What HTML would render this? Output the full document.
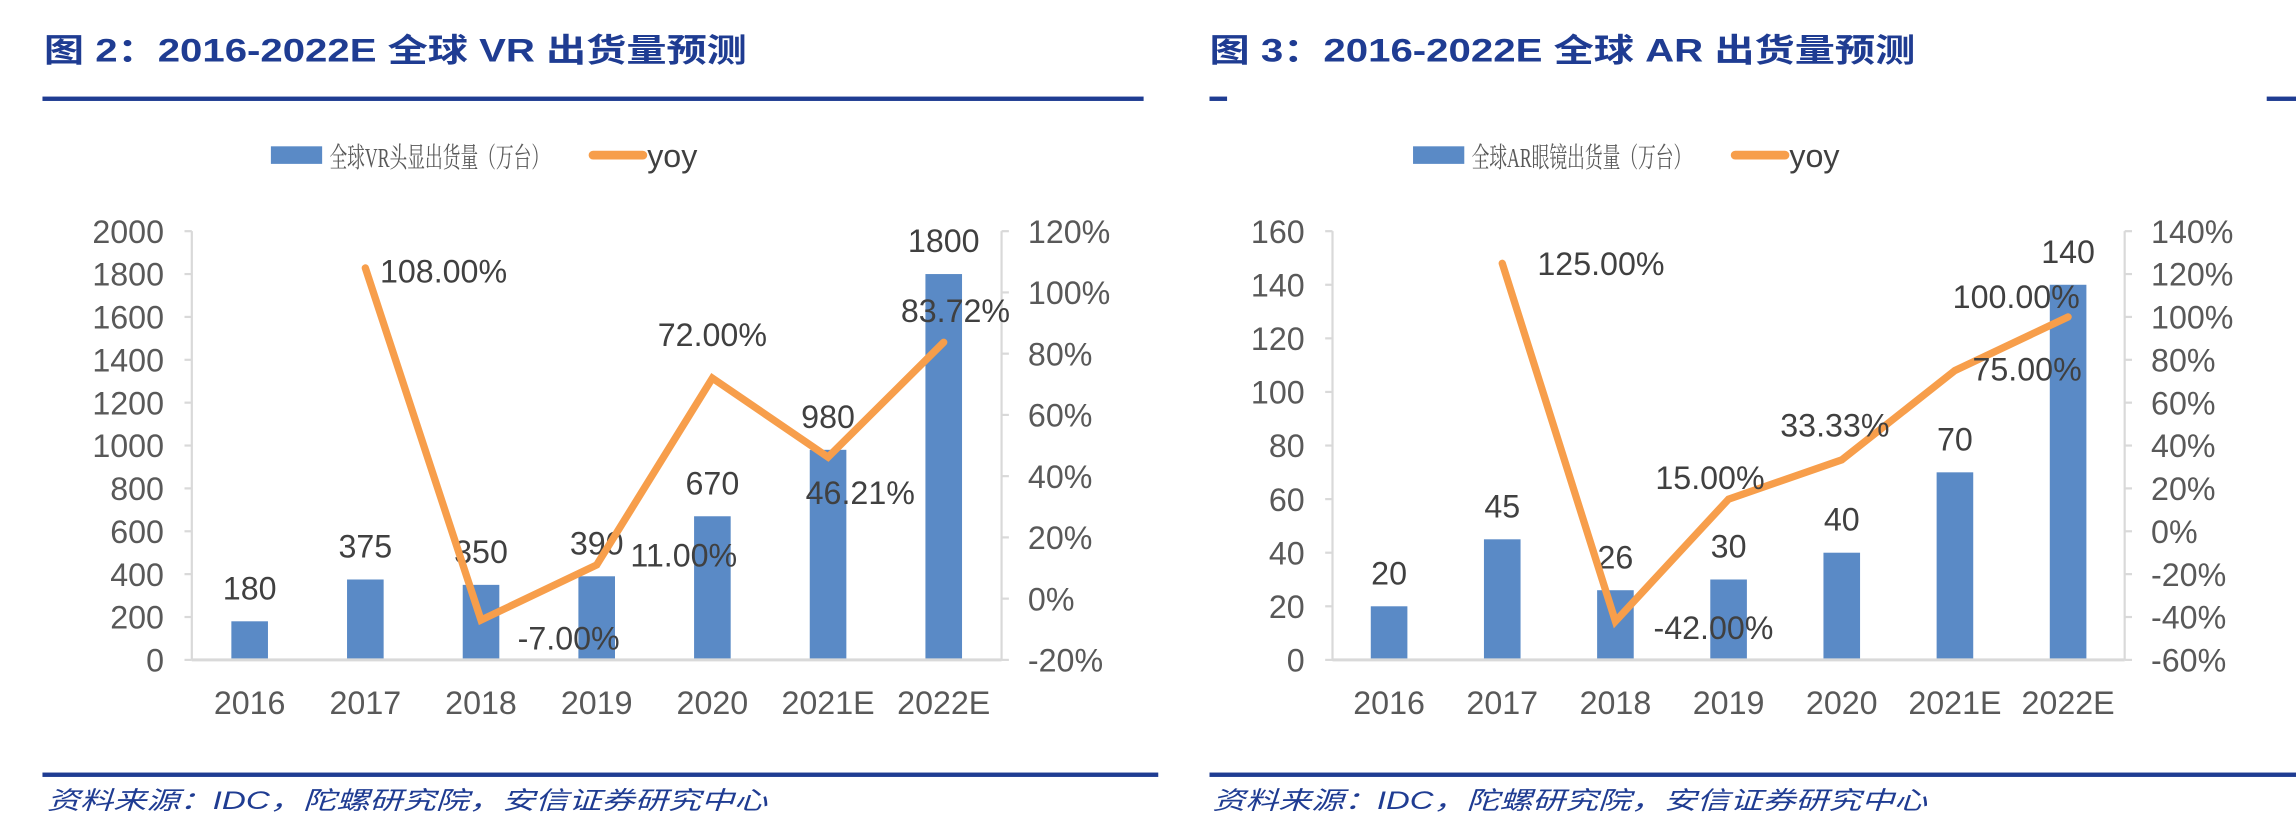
<!DOCTYPE html>
<html><head><meta charset="utf-8"><style>
html,body{margin:0;padding:0;background:#fff;}
svg{display:block;}
text{font-family:"Liberation Sans","Noto Sans CJK SC",sans-serif;}
text.serif{font-family:"Liberation Serif","Noto Serif CJK SC",serif;}
</style></head><body>
<svg id="root" width="2296" height="834" viewBox="0 0 1568 570" preserveAspectRatio="none" xmlns="http://www.w3.org/2000/svg">
<rect width="1568" height="570" fill="#fff"/>
<text x="30" y="42" font-size="22" font-weight="bold" fill="#1F3C92" textLength="480" lengthAdjust="spacingAndGlyphs">图 2：2016-2022E 全球 VR 出货量预测</text>
<rect x="29" y="66" width="752" height="3" fill="#1F3C92"/>
<rect x="29" y="528" width="762" height="3" fill="#1F3C92"/>
<text x="32" y="553" font-size="17" font-style="italic" fill="#1F3C92" textLength="492" lengthAdjust="spacingAndGlyphs">资料来源：IDC，陀螺研究院，安信证券研究中心</text>
<text x="826" y="42" font-size="22" font-weight="bold" fill="#1F3C92" textLength="482" lengthAdjust="spacingAndGlyphs">图 3：2016-2022E 全球 AR 出货量预测</text>
<rect x="826" y="66" width="12" height="3" fill="#1F3C92"/>
<rect x="1548" y="66" width="20" height="3" fill="#1F3C92"/>
<rect x="826" y="528" width="742" height="3" fill="#1F3C92"/>
<text x="828" y="553" font-size="17" font-style="italic" fill="#1F3C92" textLength="488" lengthAdjust="spacingAndGlyphs">资料来源：IDC，陀螺研究院，安信证券研究中心</text>
<g id="vr"></g>
<g id="ar"></g>
</svg>
<script>
const categories = ["2016","2017","2018","2019","2020","2021E","2022E"];
const vrShipments = [180,375,350,390,670,980,1800];
const vrYoy = [null,108.00,-7.00,11.00,72.00,46.21,83.72];
const vrLeftTicks = [0,200,400,600,800,1000,1200,1400,1600,1800,2000];
const vrRightTicks = [-20,0,20,40,60,80,100,120];
const arShipments = [20,45,26,30,40,70,140];
const arYoy = [null,125.00,-42.00,15.00,33.33,75.00,100.00];
const arLeftTicks = [0,20,40,60,80,100,120,140,160];
const arRightTicks = [-60,-40,-20,0,20,40,60,80,100,120,140];
const vrLegend = "全球VR头显出货量（万台）";
const arLegend = "全球AR眼镜出货量（万台）";

const NS="http://www.w3.org/2000/svg";
function mk(parent,tag,attrs,txt){const e=document.createElementNS(NS,tag);for(const k in attrs)e.setAttribute(k,attrs[k]);if(txt!==undefined)e.textContent=txt;parent.appendChild(e);return e;}

function draw(g,cfg){
  const L=cfg.x0,R=cfg.x1,T=158,B=451;
  const lmin=cfg.lt[0],lmax=cfg.lt[cfg.lt.length-1];
  const rmin=cfg.rt[0],rmax=cfg.rt[cfg.rt.length-1];
  const yL=v=>B-(v-lmin)/(lmax-lmin)*(B-T);
  const yR=v=>B-(v-rmin)/(rmax-rmin)*(B-T);
  const step=(R-L)/categories.length;
  const xC=i=>L+step*(i+0.5);
  const lx=cfg.legX;
  let e=mk(g,'rect',{x:lx,y:100,width:35,height:12,fill:'#5A8AC6'});
  
  
  e=mk(g,'text',{class:'serif',x:lx+40,y:114,'font-size':19,fill:'#595959',textLength:150,lengthAdjust:'spacingAndGlyphs'},cfg.legend);
  
  
  e=mk(g,'line',{x1:lx+220,y1:106,x2:lx+254,y2:106,stroke:'#F79E4B','stroke-width':6,'stroke-linecap':'round'});
  
  
  e=mk(g,'text',{x:lx+257,y:114,'font-size':22,fill:'#404040'},'yoy');
  
  
  e=mk(g,'line',{x1:L,y1:T,x2:L,y2:B,stroke:'#D9D9D9','stroke-width':1.5});
  
  
  e=mk(g,'line',{x1:R,y1:T,x2:R,y2:B,stroke:'#D9D9D9','stroke-width':1.5});
  
  
  cfg.lt.forEach(v=>{
    const y=yL(v);
    let t=mk(g,'line',{x1:L-5,y1:y,x2:L,y2:y,stroke:'#D9D9D9','stroke-width':1.5});
    
    
    t=mk(g,'text',{x:L-19,y:y+8,'font-size':22,fill:'#595959','text-anchor':'end'},String(v));
    
    
  });
  cfg.rt.forEach(v=>{
    const y=yR(v);
    let t=mk(g,'line',{x1:R,y1:y,x2:R+5,y2:y,stroke:'#D9D9D9','stroke-width':1.5});
    
    
    t=mk(g,'text',{x:R+18,y:y+8,'font-size':22,fill:'#595959'},v+'%');
    
    
  });
  cfg.bars.forEach((v,i)=>{
    const y=yL(v);
    let b=mk(g,'rect',{x:xC(i)-12.5,y:y,width:25,height:B-y,fill:'#5A8AC6'});
    
    
    b=mk(g,'text',{x:xC(i),y:y-15,'font-size':22,fill:'#404040','text-anchor':'middle'},String(v));
    
    
  });
  e=mk(g,'line',{x1:L,y1:B,x2:R,y2:B,stroke:'#D9D9D9','stroke-width':2});
  
  
  categories.forEach((c,i)=>{
    const t=mk(g,'text',{x:xC(i),y:B+37,'font-size':22,fill:'#595959','text-anchor':'middle'},c);
    
    
  });
  let pts=[];
  cfg.yoy.forEach((v,i)=>{if(v!==null)pts.push(xC(i)+','+yR(v));});
  e=mk(g,'polyline',{points:pts.join(' '),fill:'none',stroke:'#F79E4B','stroke-width':5,'stroke-linejoin':'miter','stroke-linecap':'round'});
  
  
  cfg.yoy.forEach((v,i)=>{
    if(v===null)return;
    const o=cfg.off[i];
    const t=mk(g,'text',{x:xC(i)+o[0],y:yR(v)+o[1],'font-size':22,fill:'#404040','text-anchor':o[2]},v.toFixed(2)+'%');
    
    
  });
}
draw(document.getElementById('vr'),{x0:131,x1:684,lt:vrLeftTicks,rt:vrRightTicks,bars:vrShipments,yoy:vrYoy,legend:vrLegend,legX:185,
  off:[null,[10,10,'start'],[25,20,'start'],[23,1,'start'],[0,-22,'middle'],[22,32,'middle'],[8,-14,'middle']]});
draw(document.getElementById('ar'),{x0:910,x1:1451,lt:arLeftTicks,rt:arRightTicks,bars:arShipments,yoy:arYoy,legend:arLegend,legX:965,
  off:[null,[24,8,'start'],[26,12,'start'],[-50,-7,'start'],[-42,-16,'start'],[12,7,'start'],[8,-6,'end']]});
</script>
</body></html>
